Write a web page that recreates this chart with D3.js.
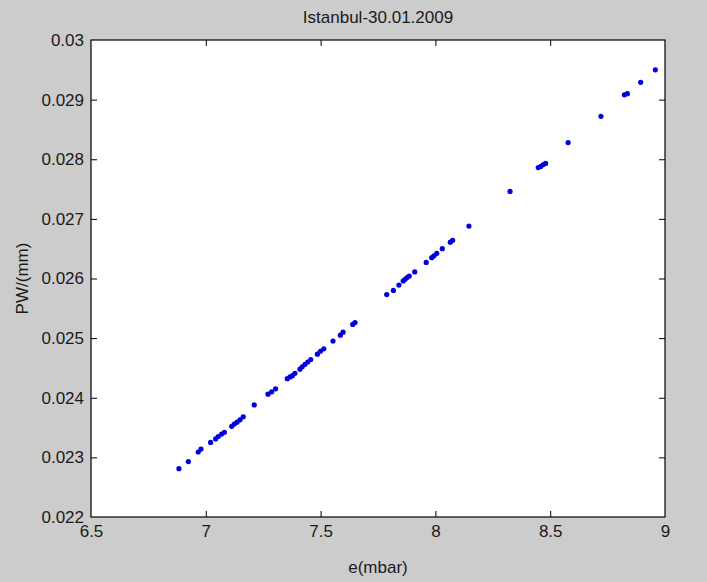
<!DOCTYPE html>
<html>
<head>
<meta charset="utf-8">
<script src="https://cdn.jsdelivr.net/npm/d3@7"></script>
<style>
  html, body { margin: 0; padding: 0; background: #cccccc; }
  svg { display: block; }
  text { font-family: "Liberation Sans", Arial, sans-serif; fill: #1a1a1a; }
</style>
</head>
<body>
<svg id="chart"></svg>
<script>
// e (mbar) vs PWV
var eValues = [6.883, 6.924, 6.967, 6.979, 7.021, 7.043, 7.054, 7.069, 7.081, 7.113,
  7.124, 7.136, 7.149, 7.163, 7.211, 7.271, 7.287, 7.304, 7.355, 7.367,
  7.377, 7.388, 7.410, 7.420, 7.432, 7.444, 7.457, 7.486, 7.499, 7.514,
  7.554, 7.586, 7.598, 7.640, 7.650, 7.788, 7.817, 7.841, 7.860, 7.869,
  7.878, 7.886, 7.910, 7.960, 7.984, 7.994, 8.006, 8.030, 8.065, 8.075,
  8.146, 8.325, 8.448, 8.459, 8.470, 8.480, 8.578, 8.721, 8.823, 8.836,
  8.894, 8.958];
var pwValues = [0.02281, 0.02293, 0.02309, 0.02314, 0.02325, 0.02331, 0.02335, 0.02339, 0.02342, 0.02352,
  0.02356, 0.02359, 0.02363, 0.02368, 0.02388, 0.02406, 0.02410, 0.02415, 0.02432, 0.02435,
  0.02437, 0.02441, 0.02448, 0.02452, 0.02456, 0.02460, 0.02464, 0.02473, 0.02478, 0.02482,
  0.02495, 0.02505, 0.02510, 0.02523, 0.02526, 0.02573, 0.02580, 0.02589, 0.02596, 0.02599,
  0.02602, 0.02604, 0.02611, 0.02627, 0.02635, 0.02638, 0.02642, 0.02650, 0.02661, 0.02664,
  0.02688, 0.02746, 0.02786, 0.02788, 0.02791, 0.02793, 0.02828, 0.02872, 0.02908, 0.02910,
  0.02929, 0.02950];

var xTicks = [6.5, 7, 7.5, 8, 8.5, 9];
var xTickLabels = ['6.5', '7', '7.5', '8', '8.5', '9'];
var yTicks = [0.022, 0.023, 0.024, 0.025, 0.026, 0.027, 0.028, 0.029, 0.03];
var yTickLabels = ['0.022', '0.023', '0.024', '0.025', '0.026', '0.027', '0.028', '0.029', '0.03'];

var title = 'Istanbul-30.01.2009';
var xLabel = 'e(mbar)';
var yLabel = 'PW/(mm)';

var width = 707;
var height = 582;
var margin = { top: 40, right: 42, bottom: 65, left: 91 };
var plotW = width - margin.left - margin.right;
var plotH = height - margin.top - margin.bottom;

var svg = d3.select('#chart').attr('width', width).attr('height', height);

var x = d3.scaleLinear().domain([6.5, 9]).range([0, plotW]);
var y = d3.scaleLinear().domain([0.022, 0.03]).range([plotH, 0]);

var g = svg.append('g').attr('transform', 'translate(' + margin.left + ',' + margin.top + ')');

g.append('rect')
  .attr('width', plotW)
  .attr('height', plotH)
  .attr('fill', '#ffffff');

var tickLen = 6;
var fontSize = 17;

function xFmt(d) { return xTickLabels[xTicks.indexOf(d)]; }
function yFmt(d) { return yTickLabels[yTicks.indexOf(d)]; }

var bottomAxis = g.append('g')
  .attr('transform', 'translate(0,' + plotH + ')')
  .call(d3.axisBottom(x).tickValues(xTicks).tickFormat(xFmt)
    .tickSizeInner(-tickLen).tickSizeOuter(0).tickPadding(8));

var topAxis = g.append('g')
  .call(d3.axisTop(x).tickValues(xTicks).tickFormat('')
    .tickSizeInner(-tickLen).tickSizeOuter(0));

var leftAxis = g.append('g')
  .call(d3.axisLeft(y).tickValues(yTicks).tickFormat(yFmt)
    .tickSizeInner(-tickLen).tickSizeOuter(0).tickPadding(7));

var rightAxis = g.append('g')
  .attr('transform', 'translate(' + plotW + ',0)')
  .call(d3.axisRight(y).tickValues(yTicks).tickFormat('')
    .tickSizeInner(-tickLen).tickSizeOuter(0));

[bottomAxis, topAxis, leftAxis, rightAxis].forEach(function(a) {
  a.select('.domain').remove();
  a.selectAll('.tick line').attr('stroke', '#000').attr('stroke-width', 1);
  a.selectAll('.tick text')
    .style('font-family', '"Liberation Sans", Arial, sans-serif')
    .style('font-size', fontSize + 'px')
    .attr('fill', '#1a1a1a');
});

// hide edge ticks that sit on the box
bottomAxis.selectAll('.tick line').filter(function(d) { return d === 6.5 || d === 9; }).remove();
topAxis.selectAll('.tick line').filter(function(d) { return d === 6.5 || d === 9; }).remove();
leftAxis.selectAll('.tick line').filter(function(d) { return d === 0.022 || d === 0.03; }).remove();
rightAxis.selectAll('.tick line').filter(function(d) { return d === 0.022 || d === 0.03; }).remove();

g.append('rect')
  .attr('width', plotW)
  .attr('height', plotH)
  .attr('fill', 'none')
  .attr('stroke', '#000')
  .attr('stroke-width', 1.2);

var points = eValues.map(function(e, i) { return { e: e, pw: pwValues[i] }; });

g.append('g')
  .selectAll('circle')
  .data(points)
  .enter()
  .append('circle')
  .attr('cx', function(d) { return x(d.e); })
  .attr('cy', function(d) { return y(d.pw); })
  .attr('r', 2.6)
  .attr('fill', '#0000dc');

svg.append('text')
  .attr('x', margin.left + plotW / 2)
  .attr('y', 23)
  .attr('text-anchor', 'middle')
  .style('font-size', fontSize + 'px')
  .text(title);

svg.append('text')
  .attr('x', margin.left + plotW / 2)
  .attr('y', 573)
  .attr('text-anchor', 'middle')
  .style('font-size', fontSize + 'px')
  .text(xLabel);

svg.append('text')
  .attr('transform', 'translate(28,' + (margin.top + plotH / 2) + ') rotate(-90)')
  .attr('text-anchor', 'middle')
  .style('font-size', fontSize + 'px')
  .text(yLabel);
</script>
</body>
</html>
